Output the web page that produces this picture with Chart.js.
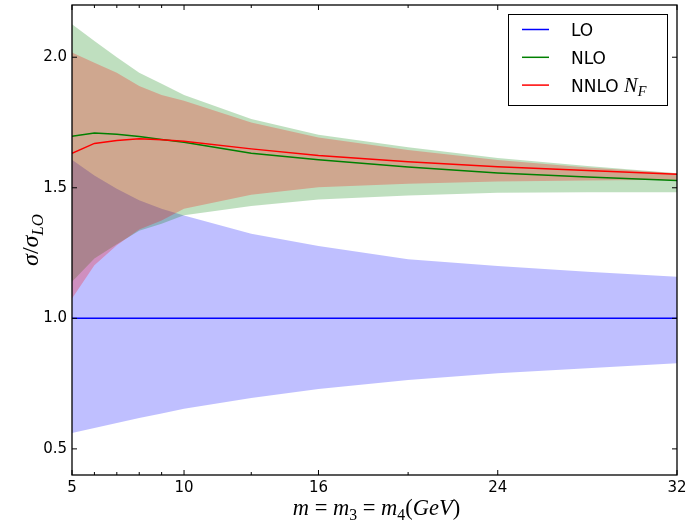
<!DOCTYPE html>
<html>
<head>
<meta charset="utf-8">
<script src="https://cdn.jsdelivr.net/npm/chart.js@4.4.0/dist/chart.umd.min.js"></script>
<style>
body{margin:0;background:#fff}
#wrap{width:689px;height:523px}
</style>
</head>
<body>
<div id="wrap"><canvas id="chart" width="689" height="523"></canvas></div>
<script>
// masses (GeV) where the curves were evaluated
const masses = [5, 6, 7, 8, 9, 10, 13, 16, 20, 24, 28, 32]

const loCentral = [1, 1, 1, 1, 1, 1, 1, 1, 1, 1, 1, 1]
const loUpper = [1.607, 1.547, 1.496, 1.452, 1.42, 1.394, 1.324, 1.277, 1.226, 1.2, 1.178, 1.159]
const loLower = [0.561, 0.58, 0.599, 0.618, 0.636, 0.654, 0.695, 0.729, 0.764, 0.79, 0.809, 0.828]

const nloCentral = [1.697, 1.71, 1.705, 1.696, 1.685, 1.674, 1.632, 1.607, 1.58, 1.557, 1.541, 1.528]
const nloUpper = [2.126, 2.062, 2.0, 1.941, 1.898, 1.855, 1.763, 1.703, 1.655, 1.614, 1.583, 1.556]
const nloLower = [1.14, 1.229, 1.284, 1.335, 1.362, 1.395, 1.43, 1.455, 1.47, 1.481, 1.483, 1.483]

const nnloCentral = [1.632, 1.67, 1.681, 1.688, 1.684, 1.678, 1.649, 1.624, 1.6, 1.581, 1.566, 1.552]
const nnloUpper = [2.018, 1.979, 1.941, 1.89, 1.855, 1.833, 1.75, 1.693, 1.645, 1.606, 1.578, 1.556]
const nnloLower = [1.076, 1.203, 1.28, 1.34, 1.375, 1.42, 1.473, 1.502, 1.515, 1.524, 1.528, 1.531]

const xTicks = [5, 10, 16, 24, 32]
const xMinorTicks = [6, 7, 8, 9, 13, 20]
const yTicks = [0.5, 1.0, 1.5, 2.0]

const pts = vals => masses.map((m, i) => ({x: m, y: vals[i]}))

// text made of runs, so the math labels can have italics and subscripts
function runFont(r, size) {
  const base = size * (r.scale || 1)
  const s = r.sub ? base * 0.7 : base
  const fam = r.sans ? '"DejaVu Sans"' : '"Liberation Serif"'
  return (r.it ? 'italic ' : '') + s + 'px ' + fam
}

function runsWidth(ctx, runs, size) {
  let w = 0
  runs.forEach(r => { ctx.font = runFont(r, size); w += ctx.measureText(r.t).width })
  return w
}

function drawRuns(ctx, runs, x, y, size, align) {
  let cx = align === 'center' ? x - runsWidth(ctx, runs, size) / 2 : x
  ctx.textAlign = 'left'
  ctx.textBaseline = 'alphabetic'
  runs.forEach(r => {
    ctx.font = runFont(r, size)
    ctx.fillText(r.t, cx, y + (r.sub ? size * (r.scale || 1) * 0.22 : 0))
    cx += ctx.measureText(r.t).width
  })
}

const xTitle = [
  {t: 'm', it: true}, {t: ' = '}, {t: 'm', it: true}, {t: '3', sub: true},
  {t: ' = '}, {t: 'm', it: true}, {t: '4', sub: true}, {t: '('}, {t: 'GeV', it: true}, {t: ')'}
]
const yTitle = [{t: 'σ', it: true}, {t: '/'}, {t: 'σ', it: true}, {t: 'LO', it: true, sub: true}]

const axesPlugin = {
  id: 'mplAxes',
  afterDatasetsDraw(chart) {
    const {ctx, chartArea: a, scales: {x, y}} = chart
    ctx.save()
    ctx.strokeStyle = '#000'
    ctx.fillStyle = '#000'

    const seg = (x1, y1, x2, y2) => { ctx.beginPath(); ctx.moveTo(x1, y1); ctx.lineTo(x2, y2); ctx.stroke() }

    ctx.lineWidth = 1
    xTicks.forEach(v => {
      const px = x.getPixelForValue(v)
      seg(px, a.bottom, px, a.bottom - 5)
      seg(px, a.top, px, a.top + 5)
    })
    xMinorTicks.forEach(v => {
      const px = x.getPixelForValue(v)
      seg(px, a.bottom, px, a.bottom - 3)
      seg(px, a.top, px, a.top + 3)
    })
    yTicks.forEach(v => {
      const py = y.getPixelForValue(v)
      seg(a.left, py, a.left + 5, py)
      seg(a.right, py, a.right - 5, py)
    })

    ctx.lineWidth = 1.3
    ctx.strokeRect(a.left, a.top, a.right - a.left, a.bottom - a.top)

    // tick labels
    ctx.font = '15px "DejaVu Sans"'
    ctx.textAlign = 'center'
    ctx.textBaseline = 'top'
    xTicks.forEach(v => ctx.fillText(String(v), x.getPixelForValue(v), a.bottom + 6))
    ctx.textAlign = 'right'
    ctx.textBaseline = 'middle'
    yTicks.forEach(v => ctx.fillText(v.toFixed(1), a.left - 5, y.getPixelForValue(v)))

    // axis titles
    drawRuns(ctx, xTitle, (a.left + a.right) / 2 + 2, 515, 22.5, 'center')
    ctx.translate(38, (a.top + a.bottom) / 2)
    ctx.rotate(-Math.PI / 2)
    drawRuns(ctx, yTitle, 0, 0, 24, 'center')
    ctx.restore()
  },
  afterDraw(chart) {
    const ctx = chart.ctx
    ctx.save()
    ctx.fillStyle = '#fff'
    ctx.strokeStyle = '#000'
    ctx.lineWidth = 1
    ctx.fillRect(508.5, 14.5, 159, 91)
    ctx.strokeRect(508.5, 14.5, 159, 91)
    chart.data.datasets.filter(d => d.legendRuns).forEach((d, i) => {
      const ly = 29.5 + i * 27.8
      ctx.strokeStyle = d.borderColor
      ctx.lineWidth = 1.5
      ctx.beginPath(); ctx.moveTo(522, ly); ctx.lineTo(549, ly); ctx.stroke()
      ctx.fillStyle = '#000'
      drawRuns(ctx, d.legendRuns, 571, ly + 6.5, 17, 'left')
    })
    ctx.restore()
  }
}

const line = (label, vals, color, order, runs) => ({
  label, data: pts(vals), borderColor: color, borderWidth: 1.5,
  pointRadius: 0, tension: 0, fill: false, order, legendRuns: runs
})
const bandTop = (label, vals, fillColor, order) => ({
  label, data: pts(vals), borderColor: 'transparent', borderWidth: 0,
  backgroundColor: fillColor, pointRadius: 0, tension: 0, fill: '+1', order
})
const bandBottom = (label, vals, order) => ({
  label, data: pts(vals), borderColor: 'transparent', borderWidth: 0,
  pointRadius: 0, tension: 0, fill: false, order
})

new Chart(document.getElementById('chart'), {
  type: 'line',
  data: {
    datasets: [
      line('LO', loCentral, '#0000ff', 2, [{t: 'LO', sans: true}]),
      line('NLO', nloCentral, '#008000', 1, [{t: 'NLO', sans: true}]),
      line('NNLO N_F', nnloCentral, '#ff0000', 0,
        [{t: 'NNLO ', sans: true}, {t: 'N', it: true, scale: 1.2}, {t: 'F', it: true, sub: true, scale: 1.2}]),
      bandTop('LO up', loUpper, 'rgba(0,0,255,0.25)', 5),
      bandBottom('LO down', loLower, 5),
      bandTop('NLO up', nloUpper, 'rgba(0,128,0,0.25)', 4),
      bandBottom('NLO down', nloLower, 4),
      bandTop('NNLO up', nnloUpper, 'rgba(255,0,0,0.25)', 3),
      bandBottom('NNLO down', nnloLower, 3)
    ]
  },
  options: {
    responsive: false,
    animation: false,
    devicePixelRatio: 1,
    events: [],
    layout: {padding: {left: 72, right: 12, top: 5, bottom: 48}},
    scales: {
      x: {type: 'linear', min: 5, max: 32, display: false},
      y: {type: 'linear', min: 0.4, max: 2.2, display: false}
    },
    plugins: {
      legend: {display: false},
      tooltip: {enabled: false},
      filler: {drawTime: 'beforeDatasetsDraw'}
    }
  },
  plugins: [axesPlugin]
})
</script>
</body>
</html>
